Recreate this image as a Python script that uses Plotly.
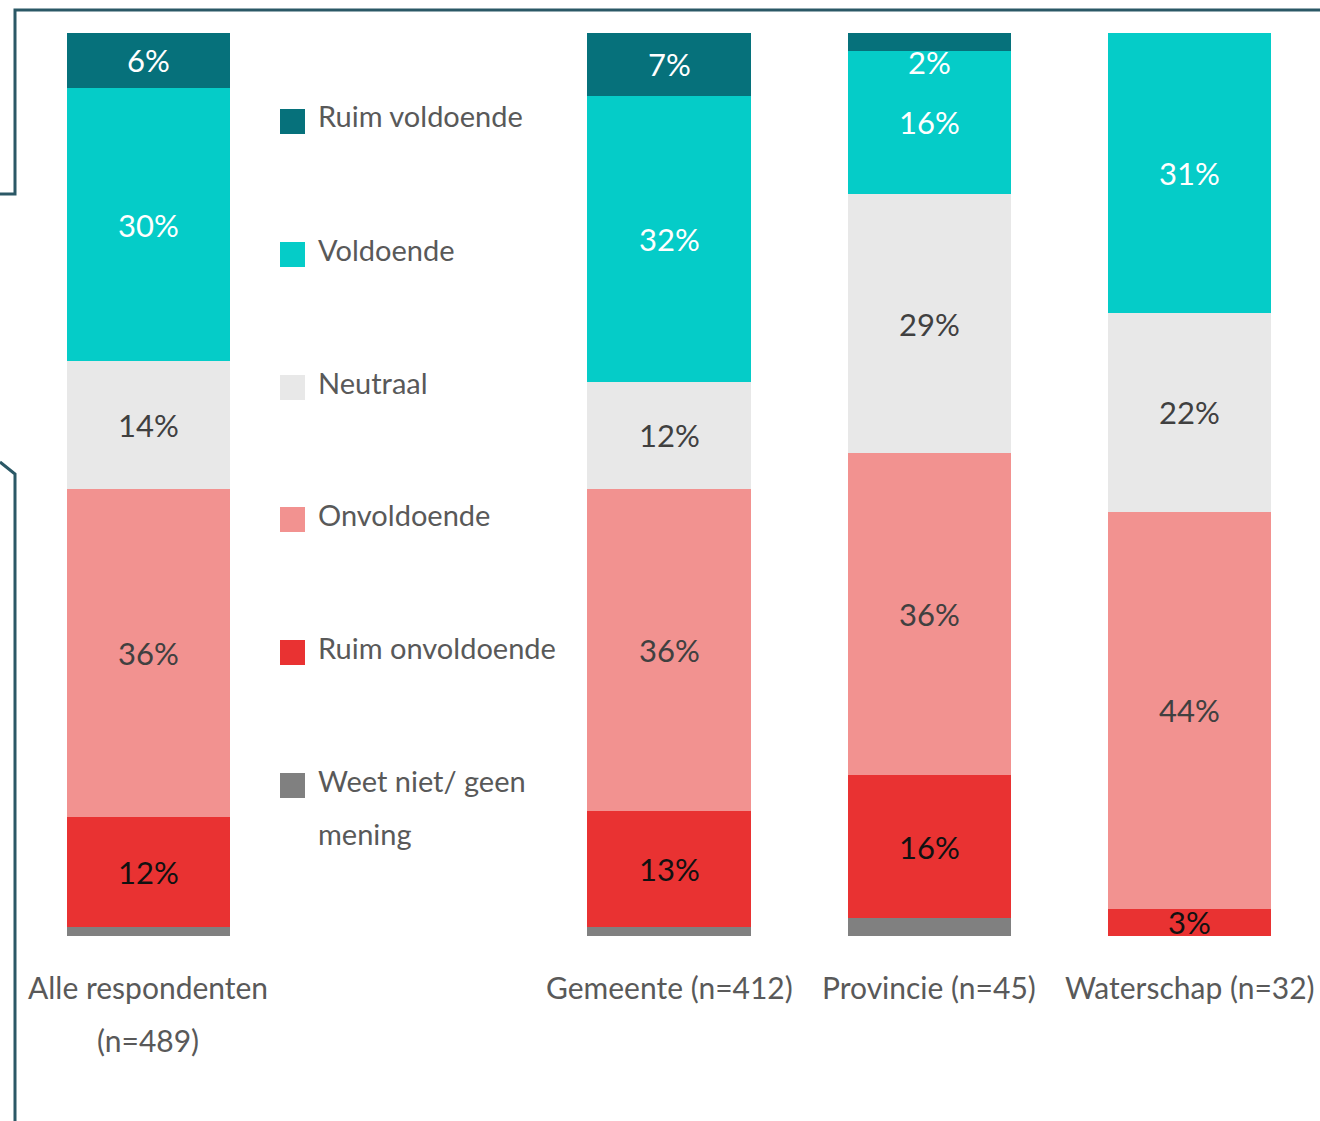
import plotly.graph_objects as go

# Categories (position 1 is left empty; the legend sits there)
categories = ["Alle respondenten<br>(n=489)", "", "Gemeente (n=412)", "Provincie (n=45)", "Waterschap (n=32)"]
cat_lines = [["Alle respondenten", "(n=489)"], [], ["Gemeente (n=412)"], ["Provincie (n=45)"], ["Waterschap (n=32)"]]

series_names = ["Ruim voldoende", "Voldoende", "Neutraal", "Onvoldoende", "Ruim onvoldoende", "Weet niet/ geen mening"]

# Percentages per category, in stacking order from the top down
ruim_voldoende = [6, None, 7, 2, 0]
voldoende = [30, None, 32, 16, 31]
neutraal = [14, None, 12, 29, 22]
onvoldoende = [36, None, 36, 36, 44]
ruim_onvoldoende = [12, None, 13, 16, 3]
weet_niet = [1, None, 1, 2, 0]

# Whether a segment of each series carries a value label
show_label = [True, True, True, True, True, False]

colors = ["#06717B", "#05CCC8", "#E8E8E8", "#F29290", "#E93232", "#808080"]
label_colors = ["#FFFFFF", "#FFFFFF", "#404040", "#404040", "#111111", "#404040"]

font_family = "Lato, 'Noto Sans', sans-serif"
text_gray = "#595959"

W, H = 1320, 1121
ML, MR, MT, MB = 18, 0, 33, 185
PW, PH = W - ML - MR, H - MT - MB

values_top_down = [ruim_voldoende, voldoende, neutraal, onvoldoende, ruim_onvoldoende, weet_niet]
xs = list(range(len(categories)))

fig = go.Figure()

# Plotly stacks from the bottom up, so add series in reverse order
for i in reversed(range(len(series_names))):
    fig.add_trace(go.Bar(
        x=xs,
        y=values_top_down[i],
        name=series_names[i],
        marker=dict(color=colors[i], line=dict(width=0)),
        width=0.626,
        showlegend=False,
        hoverinfo="skip",
    ))

annotations = []

# Segment labels, centred in each normalised segment
for c in xs:
    col = [v[c] for v in values_top_down]
    if col[0] is None:
        continue
    total = sum(col)
    bottom = 0.0
    for i in reversed(range(len(series_names))):
        v = col[i]
        if v and show_label[i]:
            centre = (bottom + v / 2) / total * 100
            shift = 0
            if v / total * 100 < 4 and i == 0:
                shift = -20  # tiny top segment: label drops just below it
            annotations.append(dict(
                x=c, y=centre, xref="x", yref="y", text=f"{v}%",
                showarrow=False, yshift=shift,
                font=dict(family=font_family, size=31, color=label_colors[i]),
            ))
        bottom += v or 0

# Category labels under the bars
for c, lines in zip(xs, cat_lines):
    for k, line in enumerate(lines):
        annotations.append(dict(
            x=c, y=-51 / PH - k * 53 / PH, xref="x", yref="paper", text=line,
            showarrow=False, yanchor="middle",
            font=dict(family=font_family, size=30, color=text_gray),
        ))


def px_x(px):
    return (px - ML) / PW


def px_y(py):
    return (H - MB - py) / PH


shapes = []

# Legend placed in the empty category slot
legend_rows = [116, 249, 382, 514, 647, 780]
for i, name in enumerate(series_names):
    yc = legend_rows[i]
    shapes.append(dict(
        type="rect", xref="paper", yref="paper",
        x0=px_x(280), x1=px_x(305), y0=px_y(yc + 18), y1=px_y(yc - 7),
        fillcolor=colors[i], line=dict(width=0),
    ))
    parts = ["Weet niet/ geen", "mening"] if name.startswith("Weet") else [name]
    for k, part in enumerate(parts):
        annotations.append(dict(
            x=px_x(316), y=px_y(yc + k * 53), xref="paper", yref="paper",
            text=part, showarrow=False, xanchor="left", yanchor="middle",
            font=dict(family=font_family, size=29, color=text_gray),
        ))

# Framing callout lines
frame_color = "#2B5866"
frame_paths = [
    [(0, 194), (15, 194), (15, 10), (1320, 10)],
    [(0, 462), (15, 474), (15, 1121)],
]
for pts in frame_paths:
    path = "M " + " L ".join(f"{px_x(x)},{px_y(y)}" for x, y in pts)
    shapes.append(dict(type="path", xref="paper", yref="paper", path=path,
                       line=dict(color=frame_color, width=3)))

fig.update_layout(
    width=W, height=H,
    margin=dict(l=ML, r=MR, t=MT, b=MB, pad=0),
    barmode="stack",
    barnorm="percent",
    bargap=0,
    paper_bgcolor="white",
    plot_bgcolor="white",
    xaxis=dict(range=[-0.5, 4.5], showticklabels=False, showgrid=False,
               zeroline=False, showline=False, fixedrange=True),
    yaxis=dict(range=[0, 100], showticklabels=False, showgrid=False,
               zeroline=False, showline=False, fixedrange=True),
    annotations=annotations,
    shapes=shapes,
    font=dict(family=font_family),
)

fig.write_html("out.html")
